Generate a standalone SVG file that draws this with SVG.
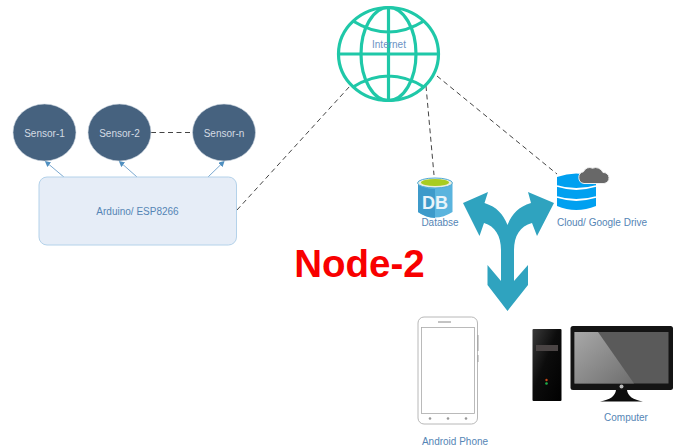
<svg xmlns="http://www.w3.org/2000/svg" width="677" height="448" viewBox="0 0 677 448">
<style>
text{font-family:"Liberation Sans",Arial,sans-serif;text-anchor:middle}
.s{fill:#46627f;stroke:#d5dde6;stroke-width:.6}
.st{font-size:10px;fill:#d4dbe3}
.l{font-size:10px;fill:#5585b5}
.d{fill:none;stroke:#444;stroke-width:1;stroke-dasharray:5 3.500}
.a{fill:none;stroke:#7aa8d0;stroke-width:1;marker-end:url(#m)}
.g{fill:none;stroke:#1fc8a8;stroke-width:3.200}
</style>
<defs>
<marker id="m" markerUnits="userSpaceOnUse" markerWidth="6" markerHeight="6" refX="5" refY="3" orient="auto"><path d="M0 0L6 3L0 6z" fill="#4f8fc0"/></marker>
<linearGradient id="sh" x1="0" y1="0" x2="1" y2="1"><stop offset="0" stop-color="#a8a8a8"/><stop offset="1" stop-color="#6e6e6e"/></linearGradient>
<linearGradient id="tw" x1="0" y1="0" x2="1" y2="1"><stop offset="0" stop-color="#3a3a3a"/><stop offset=".45" stop-color="#0c0c0c"/><stop offset="1" stop-color="#000"/></linearGradient>
</defs>
<rect width="677" height="448" fill="#fff"/>
<g id="connectors">
<path class="a" d="M65 178L45.500 161.500"/>
<path class="a" d="M137 177L119.500 161.500"/>
<path class="a" d="M207 178L224 161.500"/>
<path class="d" d="M151 132.500H193"/>
<path class="d" d="M237 210L350 86"/>
<path class="d" d="M426 86L434 175"/>
<path class="d" d="M437 76L557 174"/>
</g>
<g id="sensor-1"><ellipse class="s" cx="44.500" cy="132.500" rx="31.500" ry="28.500"/><text class="st" x="44.500" y="136.500">Sensor-1</text></g>
<g id="sensor-2"><ellipse class="s" cx="119.500" cy="132.500" rx="31.500" ry="28.500"/><text class="st" x="119.500" y="136.500">Sensor-2</text></g>
<g id="sensor-n"><ellipse class="s" cx="224" cy="132.500" rx="31.500" ry="28.500"/><text class="st" x="224" y="136.500">Sensor-n</text></g>
<g id="arduino"><rect x="39" y="177" width="197.500" height="68" rx="8" fill="#e6edf7" stroke="#b4d2ea" stroke-width="1"/><text class="l" x="137.500" y="214.500">Arduino/ ESP8266</text></g>
<g id="internet">
<ellipse class="g" cx="388.500" cy="54" rx="50" ry="46.500"/>
<ellipse class="g" cx="388.500" cy="54" rx="27.500" ry="46.500"/>
<path class="g" d="M388.500 7.500V100.500M338.500 54H438.500M353 21Q388.500 43 424 21M353 87Q388.500 65 424 87"/>
<text x="389" y="47.500" style="font-size:10px;fill:#6b93c4">Internet</text>
</g>
<g id="database">
<path d="M418 184V212Q435 223 452.500 212V184z" fill="#5ab4de"/>
<path d="M418 184V212Q425 217.500 435 218V189Q425 189 418 184z" fill="#3d9aca"/>
<ellipse cx="435" cy="183" rx="17.500" ry="5" fill="#e8eee0" stroke="#4ea9d6" stroke-width="1"/>
<ellipse cx="435" cy="182.500" rx="14" ry="3.500" fill="#a8cc20"/>
<text x="435" y="208.500" style="font-size:18px;font-weight:bold;fill:#e9f4fa">DB</text>
<text class="l" x="440" y="226">Databse</text>
</g>
<g id="cloud">
<path d="M557 177Q576 170 596 177V206Q576 214 557 206z" fill="#00a0f0"/>
<path d="M557 186Q576 192 596 186M557 197Q576 203 596 197" fill="none" stroke="#fff" stroke-width="1.800"/>
<path d="M584 183.500a6 6 0 0 1-.500-11.800a6.500 6.500 0 0 1 9-3.500a8 8 0 0 1 10.500 4.300a5.500 5.500 0 0 1 1 11z" fill="#686868" stroke="#eee" stroke-width="1"/>
<text class="l" x="602" y="226">Cloud/ Google Drive</text>
</g>
<g id="fork-arrow">
<path d="M463 203L488 192L484.500 203C497 207 503 214 507.500 225C512 214 518 207 531 203L528 192L554 203L537 236L532 223C520 226 514 236 514 250V281L528 265V285L507.500 311L487.500 285V265L501 281V250C501 236 495 226 484 223L479.500 236z" fill="#2fa3bf"/>
</g>
<text id="title" x="359.500" y="277" style="font-size:38.500px;font-weight:bold;fill:#f80000">Node-2</text>
<g id="phone">
<rect x="418" y="317" width="59.500" height="107" rx="6" fill="#fff" stroke="#b8b8b8" stroke-width="1"/>
<rect x="421.500" y="327.500" width="53" height="86" fill="#fff" stroke="#aaa" stroke-width=".8"/>
<path d="M438 322H451" stroke="#888" stroke-width="1"/>
<path d="M477.800 335V351M477.800 355V362" stroke="#aaa" stroke-width="1.500"/>
<circle cx="430" cy="418.500" r="1.300" fill="#999"/><circle cx="448" cy="418.500" r="1.300" fill="#999"/><circle cx="466" cy="418.500" r="1.300" fill="#999"/>
<text class="l" x="455" y="445">Android Phone</text>
</g>
<g id="computer">
<rect x="532.500" y="329" width="29" height="72" rx="1" fill="url(#tw)"/>
<rect x="536" y="345" width="22" height="6" fill="#4a4444"/>
<circle cx="546.500" cy="380" r="1.200" fill="#c84a1a"/><circle cx="546.500" cy="383.500" r="1.300" fill="#1fae4a"/>
<rect x="570.500" y="326" width="102.500" height="64" rx="2.500" fill="#141414"/>
<rect x="574.500" y="332" width="94" height="51.500" fill="#5a5a5a"/>
<path d="M574.500 332H598L634 383.500H574.500z" fill="url(#sh)"/>
<path d="M600 401.500Q615 399 616 390H627Q628 399 643 401.500z" fill="#0c0c0c"/>
<circle cx="621.500" cy="386.500" r="2" fill="#bbb"/>
<text class="l" x="626" y="421">Computer</text>
</g>
</svg>
